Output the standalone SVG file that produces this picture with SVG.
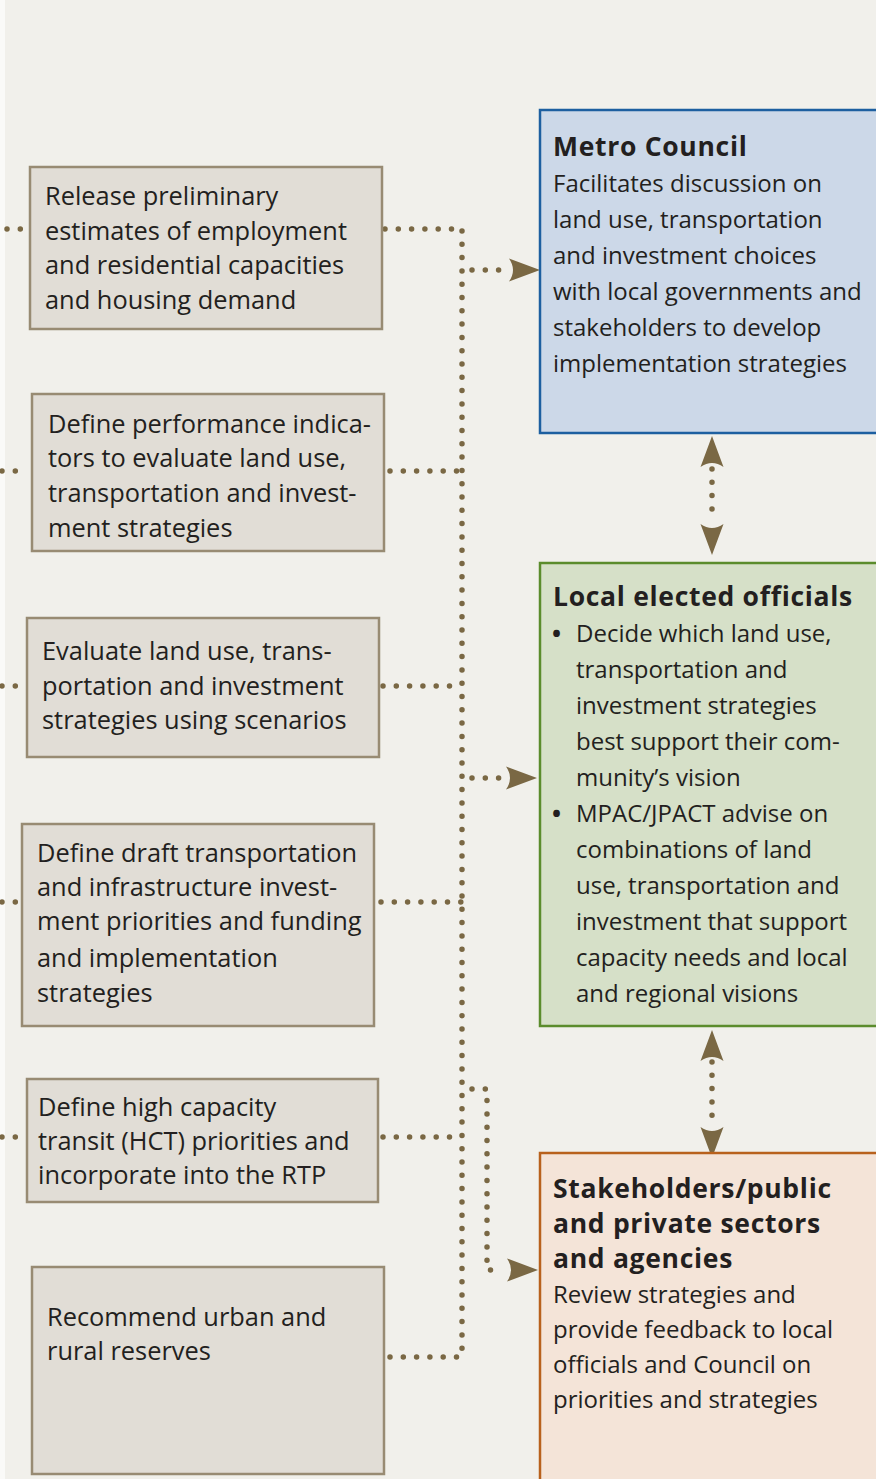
<svg xmlns="http://www.w3.org/2000/svg" xmlns:xlink="http://www.w3.org/1999/xlink" width="876" height="1479" viewBox="0 0 876 1479">
<style>
.bg{fill:#f1f0eb}
.lbox{fill:#e1ddd6;stroke:#988b73;stroke-width:2.5}
.t{font-family:"Open Sans","Noto Sans","Liberation Sans",sans-serif;font-size:24px;fill:#231f20}
.l{font-size:25.4px}
.b{font-weight:bold;font-size:26.5px;letter-spacing:0.7px}
.dot{fill:none;stroke:#7a6844;stroke-width:5.5;stroke-linecap:round;stroke-dasharray:0 13.3}
.ah{fill:#7a6844}
</style>
<defs>
<path id="ah" d="M0,0 L-31,-11.5 Q-23,0 -31,11.5 Z"/>
</defs>
<rect x="0" y="0" width="876" height="1479" fill="#fafaf8"/>
<rect class="bg" x="5" y="0" width="871" height="1479"/>

<g id="connectors">
<path class="dot" d="M7,229 H22"/>
<path class="dot" d="M2,471 H28"/>
<path class="dot" d="M2,686 H22"/>
<path class="dot" d="M2,902 H18"/>
<path class="dot" d="M2,1137 H22"/>
<path class="dot" d="M385,229 H462"/>
<path class="dot" d="M462,231 V1357"/>
<path class="dot" d="M390,471 H462"/>
<path class="dot" d="M383,686 H462"/>
<path class="dot" d="M381,902 H462"/>
<path class="dot" d="M383,1137 H462"/>
<path class="dot" d="M390,1357 H462"/>
<path class="dot" d="M472,270 H510"/>
<path class="dot" d="M472,778 H501"/>
<path class="dot" d="M472,1089 H487 V1270 H502"/>
<path class="dot" d="M712,469 V522"/>
<path class="dot" d="M712,1062 V1127"/>
<use class="ah" href="#ah" xlink:href="#ah" transform="translate(540,270)"/>
<use class="ah" href="#ah" xlink:href="#ah" transform="translate(537,778)"/>
<use class="ah" href="#ah" xlink:href="#ah" transform="translate(538,1270)"/>
<use class="ah" href="#ah" xlink:href="#ah" transform="translate(712,436) rotate(-90)"/>
<use class="ah" href="#ah" xlink:href="#ah" transform="translate(712,555) rotate(90)"/>
<use class="ah" href="#ah" xlink:href="#ah" transform="translate(712,1030) rotate(-90)"/>
<use class="ah" href="#ah" xlink:href="#ah" transform="translate(712,1158) rotate(90)"/>
</g>

<g id="n1">
<rect class="lbox" x="30" y="167" width="352" height="162"/>
<text class="t l" x="45" y="205">Release preliminary</text>
<text class="t l" x="45" y="240">estimates of employment</text>
<text class="t l" x="45" y="274">and residential capacities</text>
<text class="t l" x="45" y="309">and housing demand</text>
</g>
<g id="n2">
<rect class="lbox" x="32" y="394" width="352" height="157"/>
<text class="t l" x="48" y="433">Define performance indica-</text>
<text class="t l" x="48" y="467">tors to evaluate land use,</text>
<text class="t l" x="48" y="502">transportation and invest-</text>
<text class="t l" x="48" y="537">ment strategies</text>
</g>
<g id="n3">
<rect class="lbox" x="27" y="618" width="352" height="139"/>
<text class="t l" x="42" y="660">Evaluate land use, trans-</text>
<text class="t l" x="42" y="695">portation and investment</text>
<text class="t l" x="42" y="729">strategies using scenarios</text>
</g>
<g id="n4">
<rect class="lbox" x="22" y="824" width="352" height="202"/>
<text class="t l" x="37" y="862">Define draft transportation</text>
<text class="t l" x="37" y="896">and infrastructure invest-</text>
<text class="t l" x="37" y="930">ment priorities and funding</text>
<text class="t l" x="37" y="967">and implementation</text>
<text class="t l" x="37" y="1002">strategies</text>
</g>
<g id="n5">
<rect class="lbox" x="27" y="1079" width="351" height="123"/>
<text class="t l" x="38" y="1116">Define high capacity</text>
<text class="t l" x="38" y="1150">transit (HCT) priorities and</text>
<text class="t l" x="38" y="1184">incorporate into the RTP</text>
</g>
<g id="n6">
<rect class="lbox" x="32" y="1267" width="352" height="207"/>
<text class="t l" x="47" y="1326">Recommend urban and</text>
<text class="t l" x="47" y="1360">rural reserves</text>
</g>

<g id="metro">
<rect x="540" y="110" width="345" height="323" fill="#ccd8e8" stroke="#1d5fa0" stroke-width="2.5"/>
<text class="t b" x="553" y="156">Metro Council</text>
<text class="t" x="553" y="192">Facilitates discussion on</text>
<text class="t" x="553" y="228">land use, transportation</text>
<text class="t" x="553" y="264">and investment choices</text>
<text class="t" x="553" y="300">with local governments and</text>
<text class="t" x="553" y="336">stakeholders to develop</text>
<text class="t" x="553" y="372">implementation strategies</text>
</g>
<g id="local">
<rect x="540" y="563" width="345" height="463" fill="#d6e0c8" stroke="#5b8c2c" stroke-width="2.5"/>
<text class="t b" x="553" y="606" letter-spacing="0.4">Local elected officials</text>
<text class="t" x="552" y="642" font-weight="bold">•</text>
<text class="t" x="576" y="642">Decide which land use,</text>
<text class="t" x="576" y="678">transportation and</text>
<text class="t" x="576" y="714">investment strategies</text>
<text class="t" x="576" y="750">best support their com-</text>
<text class="t" x="576" y="786">munity’s vision</text>
<text class="t" x="552" y="822" font-weight="bold">•</text>
<text class="t" x="576" y="822">MPAC/JPACT advise on</text>
<text class="t" x="576" y="858">combinations of land</text>
<text class="t" x="576" y="894">use, transportation and</text>
<text class="t" x="576" y="930">investment that support</text>
<text class="t" x="576" y="966">capacity needs and local</text>
<text class="t" x="576" y="1002">and regional visions</text>
</g>
<g id="stake">
<rect x="540" y="1153" width="345" height="340" fill="#f4e4d8" stroke="#b8611c" stroke-width="2.5"/>
<text class="t b" x="553" y="1198">Stakeholders/public</text>
<text class="t b" x="553" y="1233">and private sectors</text>
<text class="t b" x="553" y="1268">and agencies</text>
<text class="t" x="553" y="1303">Review strategies and</text>
<text class="t" x="553" y="1338">provide feedback to local</text>
<text class="t" x="553" y="1373">officials and Council on</text>
<text class="t" x="553" y="1408">priorities and strategies</text>
</g>
</svg>
